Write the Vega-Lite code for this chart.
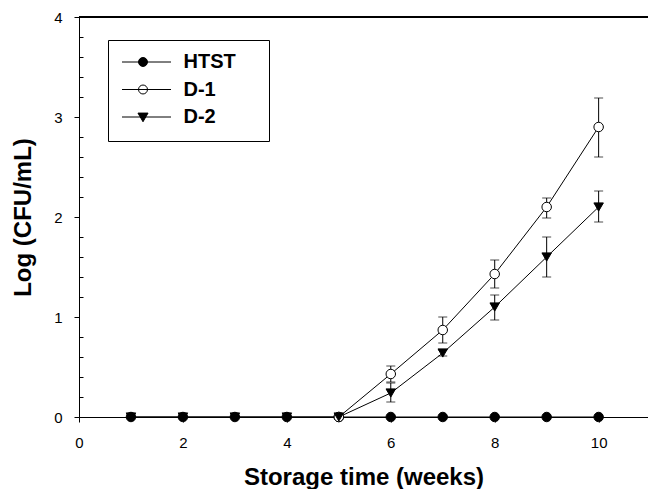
{
  "$schema": "https://vega.github.io/schema/vega-lite/v6.json",
  "width": 569,
  "height": 400,
  "autosize": "none",
  "padding": {"left": 79, "top": 17, "right": 0, "bottom": 72},
  "config": {
    "view": {"stroke": null},
    "font": "Liberation Sans",
    "axis": {
      "domainColor": "black",
      "domainWidth": 1,
      "tickColor": "black",
      "tickWidth": 1,
      "labelColor": "black",
      "titleColor": "black",
      "grid": false,
      "labelFont": "Liberation Sans",
      "titleFont": "Liberation Sans",
      "labelFontSize": 15,
      "titleFontSize": 24,
      "titleFontWeight": "bold"
    },
    "legend": {
      "orient": "none",
      "legendX": 29,
      "legendY": 23,
      "padding": 14,
      "strokeColor": "black",
      "symbolSize": 3136,
      "clipHeight": 16,
      "rowPadding": 7.5,
      "symbolOffset": -7.5,
      "labelOffset": 12,
      "labelFontSize": 20,
      "labelFontWeight": "bold",
      "labelFont": "Liberation Sans",
      "labelColor": "black",
      "symbolStrokeColor": "black",
      "symbolStrokeWidth": 1,
      "titleOrient": "right",
      "titleFontSize": 1,
      "titlePadding": 19
    }
  },
  "resolve": {"axis": {"y": "independent"}},
  "data": {
    "values": [
      {"series": "HTST", "week": 1, "value": 0},
      {"series": "HTST", "week": 2, "value": 0},
      {"series": "HTST", "week": 3, "value": 0},
      {"series": "HTST", "week": 4, "value": 0},
      {"series": "HTST", "week": 5, "value": 0},
      {"series": "HTST", "week": 6, "value": 0},
      {"series": "HTST", "week": 7, "value": 0},
      {"series": "HTST", "week": 8, "value": 0},
      {"series": "HTST", "week": 9, "value": 0},
      {"series": "HTST", "week": 10, "value": 0},
      {"series": "D-1", "week": 5, "value": 0},
      {"series": "D-1", "week": 6, "value": 0.43, "lo": 0.35, "hi": 0.51},
      {"series": "D-1", "week": 7, "value": 0.87, "lo": 0.74, "hi": 1.0},
      {"series": "D-1", "week": 8, "value": 1.43, "lo": 1.29, "hi": 1.57},
      {"series": "D-1", "week": 9, "value": 2.1, "lo": 1.99, "hi": 2.19},
      {"series": "D-1", "week": 10, "value": 2.9, "lo": 2.6, "hi": 3.19},
      {"series": "D-2", "week": 1, "value": 0},
      {"series": "D-2", "week": 2, "value": 0},
      {"series": "D-2", "week": 3, "value": 0},
      {"series": "D-2", "week": 4, "value": 0},
      {"series": "D-2", "week": 5, "value": 0},
      {"series": "D-2", "week": 6, "value": 0.24, "lo": 0.15, "hi": 0.34},
      {"series": "D-2", "week": 7, "value": 0.64, "lo": 0.61, "hi": 0.67},
      {"series": "D-2", "week": 8, "value": 1.1, "lo": 0.97, "hi": 1.22},
      {"series": "D-2", "week": 9, "value": 1.6, "lo": 1.4, "hi": 1.8},
      {"series": "D-2", "week": 10, "value": 2.1, "lo": 1.95, "hi": 2.26}
    ]
  },
  "layer": [
    {
      "mark": {"type": "line", "color": "black", "strokeWidth": 1},
      "encoding": {
        "x": {
          "field": "week",
          "type": "quantitative",
          "title": "Storage time (weeks)",
          "scale": {"domain": [0, 10.95], "nice": false, "zero": false},
          "axis": {
            "values": [0, 2, 4, 6, 8, 10],
            "tickSize": 5,
            "labelPadding": 13,
            "titlePadding": 15,
            "labelFlush": false
          }
        },
        "y": {
          "field": "value",
          "type": "quantitative",
          "title": "Log (CFU/mL)",
          "scale": {"domain": [0, 4], "nice": false},
          "axis": {
            "orient": "left",
            "values": [0, 1, 2, 3, 4],
            "format": "d",
            "tickSize": 5,
            "labelPadding": 12,
            "labelFlush": false,
            "titlePadding": 18
          }
        },
        "detail": {"field": "series"}
      }
    },
    {
      "mark": {"type": "rule", "color": "black", "strokeWidth": 1},
      "encoding": {"y": {"datum": 4, "type": "quantitative", "axis": null}}
    },
    {
      "transform": [{"filter": "isValid(datum.lo)"}],
      "mark": {"type": "errorbar", "ticks": {"size": 9, "thickness": 1}, "color": "black"},
      "encoding": {
        "x": {"field": "week", "type": "quantitative", "title": "Storage time (weeks)"},
        "y": {
          "field": "lo",
          "type": "quantitative",
          "title": null,
          "axis": {
            "orient": "left",
            "values": [0.2, 0.4, 0.6, 0.8, 1.2, 1.4, 1.6, 1.8, 2.2, 2.4, 2.6, 2.8, 3.2, 3.4, 3.6, 3.8],
            "labels": false,
            "domain": false,
            "offset": -4,
            "tickSize": 4,
            "title": null
          }
        },
        "y2": {"field": "hi"}
      }
    },
    {
      "transform": [{"filter": "datum.series !== 'D-2'"}],
      "mark": {"type": "point", "shape": "circle", "filled": true, "size": 90, "stroke": "black", "strokeWidth": 1, "opacity": 1},
      "encoding": {
        "x": {"field": "week", "type": "quantitative", "title": "Storage time (weeks)"},
        "y": {"field": "value", "type": "quantitative", "axis": null},
        "fill": {
          "field": "series",
          "type": "nominal",
          "title": "\u00a0",
          "scale": {"domain": ["HTST", "D-1", "D-2"], "range": ["black", "white", "black"]},
          "legend": {
            "symbolType": {"expr": "datum.value === 'D-2' ? 'M-1,0H1M-0.18,-0.14H0.18L0,0.17Z' : 'M-1,0H1M0.16,0A0.16,0.16,0,1,1,-0.16,0A0.16,0.16,0,1,1,0.16,0Z'"},
            "encode": {
              "symbols": {
                "stroke": {"value": "black"},
                "strokeWidth": {"value": 1}
              }
            }
          }
        }
      }
    },
    {
      "transform": [{"filter": "datum.series === 'D-2'"}],
      "mark": {"type": "point", "shape": "triangle-down", "filled": true, "size": 90, "stroke": "black", "strokeWidth": 1, "opacity": 1},
      "encoding": {
        "x": {"field": "week", "type": "quantitative", "title": "Storage time (weeks)"},
        "y": {"field": "value", "type": "quantitative", "axis": null},
        "fill": {
          "field": "series",
          "type": "nominal",
          "title": "\u00a0",
          "scale": {"domain": ["HTST", "D-1", "D-2"], "range": ["black", "white", "black"]},
          "legend": {
            "symbolType": {"expr": "datum.value === 'D-2' ? 'M-1,0H1M-0.18,-0.14H0.18L0,0.17Z' : 'M-1,0H1M0.16,0A0.16,0.16,0,1,1,-0.16,0A0.16,0.16,0,1,1,0.16,0Z'"},
            "encode": {
              "symbols": {
                "stroke": {"value": "black"},
                "strokeWidth": {"value": 1}
              }
            }
          }
        }
      }
    }
  ]
}
